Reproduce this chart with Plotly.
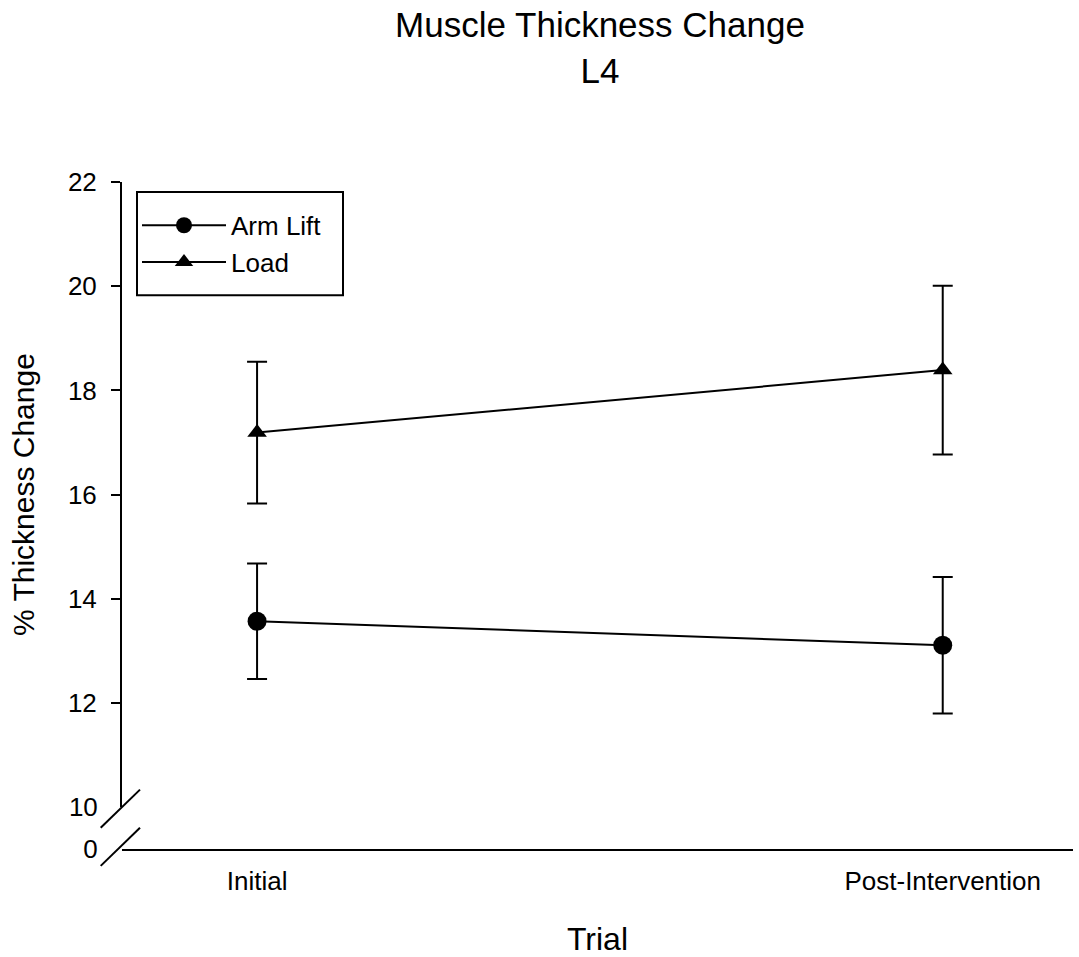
import plotly.graph_objects as go

trials = ["Initial", "Post-Intervention"]
arm_lift = [13.57, 13.11]
arm_lift_err = [1.11, 1.31]
load = [17.19, 18.39]
load_err = [1.36, 1.62]

upper_ticks = [12, 14, 16, 18, 20, 22]
lower_ticks = [0, 10]

FONT = "Liberation Sans, Arial, sans-serif"
W, H = 1079, 957
L, R, T, B = 122, 6, 182, 104
PW, PH = W - L - R, H - T - B


def xp(px):
    return (px - L) / PW


def yp(py):
    return (H - B - py) / PH


break_frac = yp(811)

fig = go.Figure()
fig.add_trace(go.Scatter(
    x=trials, y=arm_lift, name="Arm Lift", mode="lines+markers",
    line=dict(color="black", width=2),
    marker=dict(symbol="circle", size=19, color="black"),
    error_y=dict(type="data", array=arm_lift_err, color="black", thickness=2, width=10),
    xaxis="x", yaxis="y",
))
fig.add_trace(go.Scatter(
    x=trials, y=load, name="Load", mode="lines+markers",
    line=dict(color="black", width=2),
    marker=dict(symbol="triangle-up", size=17, color="black"),
    error_y=dict(type="data", array=load_err, color="black", thickness=2, width=10),
    xaxis="x", yaxis="y",
))
# invisible trace so that the lower (broken) axis segment is drawn
fig.add_trace(go.Scatter(
    x=trials, y=[lower_ticks[0]] * len(trials), mode="markers",
    marker=dict(opacity=0), showlegend=False, hoverinfo="skip",
    xaxis="x", yaxis="y2",
))

shapes = []
for (x0, y0, x1, y1) in [(100.7, 831.7, 140, 793.3), (100.7, 870, 140, 831.7)]:
    shapes.append(dict(type="line", xref="paper", yref="paper",
                       x0=xp(x0), y0=yp(y0), x1=xp(x1), y1=yp(y1),
                       line=dict(color="black", width=2)))
# legend frame
shapes.append(dict(type="rect", xref="paper", yref="paper",
                   x0=xp(137), y0=yp(296), x1=xp(343), y1=yp(192),
                   line=dict(color="black", width=2), fillcolor="rgba(0,0,0,0)"))

fig.update_layout(
    width=W, height=H,
    margin=dict(l=L, r=R, t=T, b=B),
    paper_bgcolor="white", plot_bgcolor="white",
    font=dict(family=FONT, color="black", size=26),
    title=dict(text="Muscle Thickness Change<br>L4", x=600 / W, xanchor="center",
               y=1 - 37 / H, yanchor="top", yref="container",
               font=dict(size=35, family=FONT, color="black")),
    showlegend=True,
    legend=dict(x=xp(137), y=yp(202), xanchor="left", yanchor="top",
                bgcolor="rgba(0,0,0,0)", borderwidth=0,
                font=dict(size=26, family=FONT, color="black"),
                itemwidth=84, tracegroupgap=0),
    xaxis=dict(type="category", range=[-0.197, 1.19], anchor="y2",
               showline=True, linecolor="black", linewidth=2, mirror=False,
               ticks="", showgrid=False, zeroline=False,
               tickfont=dict(size=26, family=FONT), ticklabelstandoff=8,
               title=dict(text="Trial", font=dict(size=32, family=FONT), standoff=32)),
    yaxis=dict(domain=[break_frac, 1], range=[10, 22], anchor="x",
               tickvals=upper_ticks, ticks="outside", ticklen=9, tickwidth=2,
               tickcolor="black", showline=True, linecolor="black", linewidth=2,
               showgrid=False, zeroline=False, tickfont=dict(size=26, family=FONT),
               ticklabelstandoff=9,
               title=dict(text="% Thickness Change", font=dict(size=30, family=FONT), standoff=24)),
    yaxis2=dict(domain=[0, break_frac], range=[0, 10], anchor="x",
                tickvals=lower_ticks, ticks="outside", ticklen=9, tickwidth=2,
                tickcolor="rgba(0,0,0,0)", showline=False, showgrid=False,
                zeroline=False, tickfont=dict(size=26, family=FONT),
                ticklabelstandoff=9),
    shapes=shapes,
)

fig.write_html("out.html")
